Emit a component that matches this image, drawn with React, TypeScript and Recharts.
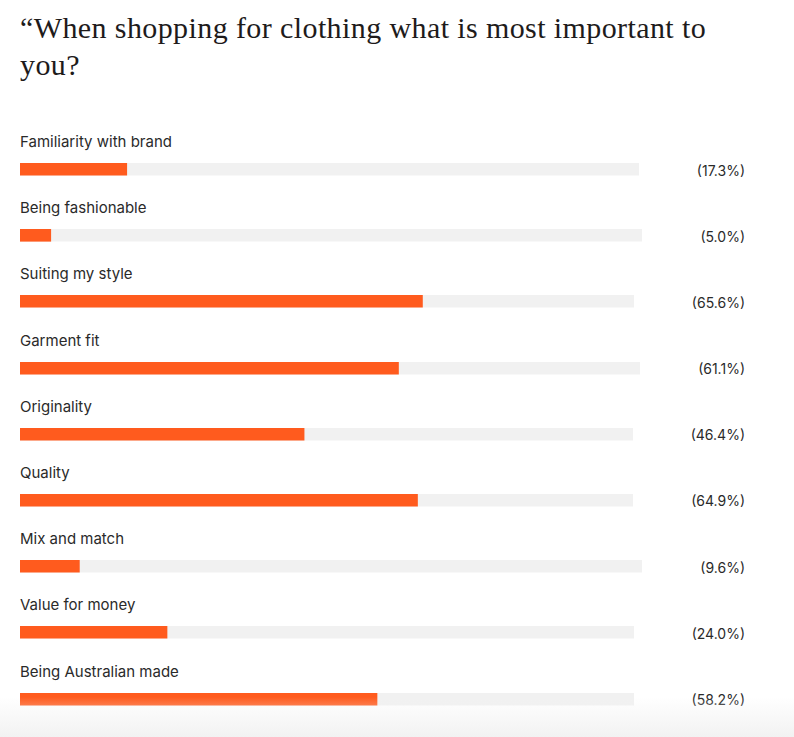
import React from "react";
import { BarChart, Bar, XAxis, YAxis, ResponsiveContainer } from "recharts";

const categories = [
  "Familiarity with brand",
  "Being fashionable",
  "Suiting my style",
  "Garment fit",
  "Originality",
  "Quality",
  "Mix and match",
  "Value for money",
  "Being Australian made",
];
const values = [17.3, 5.0, 65.6, 61.1, 46.4, 64.9, 9.6, 24.0, 58.2];
const titleLine1 = "\u201CWhen shopping for clothing what is most important to";
const titleLine2 = "you?";

const ORANGE = "#FF5B1E";
const TRACK = "#F1F1F1";
const TEXT = "#2A2A2A";

function Row({ name, value }: { name: string; value: number }) {
  const data = [{ name, value }];
  return (
    <div style={{ height: 66.2, boxSizing: "border-box" }}>
      <div style={{ fontSize: 15, lineHeight: "18px", height: 18, color: TEXT }}>{name}</div>
      <div style={{ height: 11 }} />
      <div style={{ display: "flex", alignItems: "center", height: 14 }}>
        <div style={{ flex: 1, minWidth: 0, height: 14 }}>
          <ResponsiveContainer width="100%" height={14}>
            <BarChart
              data={data}
              layout="vertical"
              margin={{ top: 0, right: 0, bottom: 0, left: 0 }}
              barCategoryGap={0}
            >
              <XAxis type="number" domain={[0, 100]} hide />
              <YAxis type="category" dataKey="name" hide />
              <Bar
                dataKey="value"
                fill={ORANGE}
                background={{ fill: TRACK }}
                barSize={14}
                isAnimationActive={false}
              />
            </BarChart>
          </ResponsiveContainer>
        </div>
        <span
          style={{
            marginLeft: 58,
            fontSize: 14,
            lineHeight: "14px",
            color: TEXT,
            whiteSpace: "nowrap",
            position: "relative",
            top: 1.5,
          }}
        >
          ({value.toFixed(1)}%)
        </span>
      </div>
    </div>
  );
}

export default function App() {
  return (
    <div
      style={{
        position: "absolute",
        top: 0,
        left: 0,
        width: 794,
        height: 737,
        background: "#ffffff",
        overflow: "hidden",
        fontFamily: "Inter, 'Liberation Sans', Arial, sans-serif",
      }}
    >
      <div
        style={{
          position: "absolute",
          left: 20,
          top: 9,
          fontFamily: "'Liberation Serif', serif",
          fontSize: 30,
          lineHeight: "37px",
          color: "#1E1B1B",
          whiteSpace: "nowrap",
          letterSpacing: 0.4,
        }}
      >
        {titleLine1}
        <br />
        {titleLine2}
      </div>
      <div style={{ position: "absolute", left: 20, top: 133, width: 725 }}>
        {categories.map((c, i) => (
          <Row key={c} name={c} value={values[i]} />
        ))}
      </div>
      <div
        style={{
          position: "absolute",
          left: 0,
          bottom: 0,
          width: 794,
          height: 40,
          background: "linear-gradient(to bottom, rgba(242,242,242,0), rgba(242,242,242,1))",
          pointerEvents: "none",
        }}
      />
    </div>
  );
}
